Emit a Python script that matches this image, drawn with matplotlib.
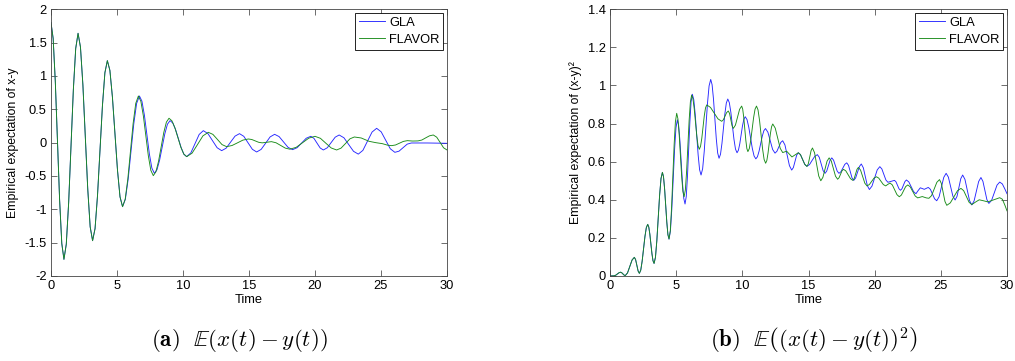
import matplotlib
matplotlib.use("Agg")
import matplotlib.pyplot as plt
from matplotlib.ticker import FuncFormatter, MultipleLocator

plt.rcParams['font.family'] = ['Liberation Sans', 'DejaVu Sans']
plt.rcParams['mathtext.fontset'] = 'cm'

# ---------------- data (time, value) ----------------
shared_mean = [(0, 1.80), (0.163, 1.562), (0.327, 0.912), (0.49, 0.025), (0.653, -0.862), (0.817, -1.512),
               (0.98, -1.75), (1.158, -1.523), (1.337, -0.903), (1.515, -0.055), (1.693, 0.793), (1.872, 1.413),
               (2.05, 1.64), (2.233, 1.432), (2.417, 0.863), (2.60, 0.085), (2.783, -0.693), (2.967, -1.262),
               (3.15, -1.47), (3.337, -1.289), (3.523, -0.795), (3.71, -0.12), (3.897, 0.555), (4.083, 1.049),
               (4.27, 1.23), (4.462, 1.083), (4.653, 0.683), (4.845, 0.135), (5.037, -0.413), (5.228, -0.813),
               (5.42, -0.96)]

gla_mean = [(5.633, -0.849), (5.847, -0.545), (6.06, -0.13), (6.273, 0.285), (6.487, 0.589), (6.70, 0.70),
            (6.888, 0.622), (7.077, 0.41), (7.265, 0.12), (7.453, -0.17), (7.642, -0.382), (7.83, -0.46),
            (8.028, -0.407), (8.227, -0.263), (8.425, -0.065), (8.623, 0.133), (8.822, 0.277), (9.02, 0.33),
            (9.23, 0.294), (9.44, 0.195), (9.65, 0.06), (9.86, -0.075), (10.07, -0.174), (10.28, -0.21),
            (10.595, -0.153), (10.91, -0.015), (11.225, 0.123), (11.54, 0.18), (11.888, 0.136), (12.235, 0.03),
            (12.583, -0.076), (12.93, -0.12), (13.268, -0.083), (13.605, 0.008), (13.943, 0.098), (14.28, 0.135),
            (14.605, 0.095), (14.93, -0.003), (15.255, -0.10), (15.58, -0.14), (15.92, -0.101), (16.26, -0.008),
            (16.60, 0.086), (16.94, 0.125), (17.28, 0.091), (17.62, 0.01), (17.96, -0.071), (18.3, -0.105),
            (18.645, -0.076), (18.99, -0.005), (19.335, 0.066), (19.68, 0.095), (19.918, 0.065), (20.155, -0.008),
            (20.393, -0.080), (20.63, -0.11), (20.93, -0.077), (21.23, 0.003), (21.53, 0.082), (21.83, 0.115),
            (22.193, 0.073), (22.555, -0.029), (22.918, -0.13), (23.28, -0.172), (23.628, -0.116), (23.975, 0.022),
            (24.323, 0.159), (24.67, 0.215), (25.015, 0.162), (25.36, 0.035), (25.705, -0.092), (26.05, -0.145),
            (26.363, -0.128), (26.675, -0.075), (26.988, -0.022), (27.3, -0.005), (28.5, -0.005), (29.5, -0.008),
            (30.0, -0.01)]

flavor_mean = [(5.62, -0.849), (5.82, -0.545), (6.02, -0.13), (6.22, 0.285), (6.42, 0.589), (6.62, 0.70),
               (6.808, 0.62), (6.997, 0.401), (7.185, 0.103), (7.373, -0.196), (7.562, -0.415), (7.75, -0.495),
               (7.948, -0.437), (8.147, -0.28), (8.345, -0.065), (8.543, 0.151), (8.742, 0.308), (8.94, 0.366),
               (9.163, 0.327), (9.387, 0.222), (9.61, 0.078), (9.833, -0.066), (10.057, -0.171), (10.28, -0.21),
               (10.69, -0.157), (11.10, -0.028), (11.51, 0.102), (11.92, 0.155), (12.265, 0.124), (12.61, 0.048),
               (12.955, -0.029), (13.3, -0.06), (13.713, -0.043), (14.125, -0.003), (14.538, 0.038), (14.95, 0.055),
               (15.213, 0.047), (15.475, 0.026), (15.738, 0.005), (16.0, -0.003), (16.35, 0.006), (16.7, 0.015),
               (17.05, -0.002), (17.40, -0.042), (17.75, -0.082), (18.1, -0.098), (18.575, -0.070), (19.05, -0.002),
               (19.525, 0.067), (20.0, 0.095), (20.41, 0.065), (20.82, -0.008), (21.23, -0.080), (21.64, -0.11),
               (21.975, -0.082), (22.31, -0.013), (22.645, 0.057), (22.98, 0.085), (23.5, 0.07), (24.1, 0.02),
               (24.6, 0.0), (25.1, -0.015), (25.5, -0.038), (25.8, -0.045), (26.1, -0.035), (26.4, -0.008),
               (26.7, 0.019), (27.0, 0.03), (27.4, 0.024), (27.8, 0.026), (28.09, 0.039), (28.38, 0.071),
               (28.67, 0.102), (28.96, 0.115), (29.22, 0.082), (29.48, 0.003), (29.74, -0.077), (30.0, -0.11)]

shared_sq = [(0, 0.0), (0.3, 0.001), (0.43, 0.004), (0.55, 0.010), (0.68, 0.017), (0.8, 0.02), (0.888, 0.017),
             (0.975, 0.011), (1.063, 0.005), (1.15, 0.002), (1.323, 0.016), (1.495, 0.05), (1.668, 0.084),
             (1.84, 0.098), (1.935, 0.086), (2.03, 0.056), (2.125, 0.026), (2.22, 0.014), (2.325, 0.031),
             (2.43, 0.078), (2.535, 0.143), (2.64, 0.207), (2.745, 0.254), (2.85, 0.271), (2.93, 0.257),
             (3.01, 0.220), (3.09, 0.169), (3.17, 0.117), (3.25, 0.080), (3.33, 0.066), (3.435, 0.098),
             (3.54, 0.186), (3.645, 0.305), (3.75, 0.425), (3.855, 0.512), (3.96, 0.544), (4.043, 0.521),
             (4.127, 0.457), (4.21, 0.369), (4.293, 0.282), (4.377, 0.217), (4.46, 0.194)]

gla_sq = [(4.565, 0.236), (4.67, 0.351), (4.775, 0.507), (4.88, 0.664), (4.985, 0.778), (5.09, 0.82),
          (5.187, 0.790), (5.283, 0.710), (5.38, 0.599), (5.477, 0.489), (5.573, 0.408), (5.67, 0.378),
          (5.762, 0.417), (5.853, 0.522), (5.945, 0.666), (6.037, 0.81), (6.128, 0.915), (6.22, 0.954),
          (6.33, 0.926), (6.44, 0.848), (6.55, 0.742), (6.66, 0.636), (6.77, 0.558), (6.88, 0.53),
          (7.002, 0.564), (7.123, 0.656), (7.245, 0.781), (7.367, 0.907), (7.488, 0.998), (7.61, 1.032),
          (7.715, 1.004), (7.82, 0.929), (7.925, 0.825), (8.03, 0.722), (8.135, 0.646), (8.24, 0.618),
          (8.35, 0.639), (8.46, 0.696), (8.57, 0.774), (8.68, 0.851), (8.79, 0.908), (8.9, 0.929),
          (9.017, 0.910), (9.133, 0.859), (9.25, 0.788), (9.367, 0.718), (9.483, 0.666), (9.6, 0.647),
          (9.703, 0.660), (9.807, 0.694), (9.91, 0.742), (10.013, 0.789), (10.117, 0.823), (10.22, 0.836),
          (10.353, 0.821), (10.487, 0.781), (10.62, 0.726), (10.753, 0.670), (10.887, 0.630), (11.02, 0.615),
          (11.142, 0.626), (11.263, 0.655), (11.385, 0.695), (11.507, 0.734), (11.628, 0.763), (11.75, 0.774),
          (11.93, 0.755), (12.11, 0.710), (12.29, 0.664), (12.47, 0.645), (12.615, 0.655), (12.76, 0.678),
          (12.905, 0.701), (13.05, 0.71), (13.22, 0.688), (13.39, 0.633), (13.56, 0.579), (13.73, 0.556),
          (13.855, 0.569), (13.98, 0.602), (14.105, 0.634), (14.23, 0.647), (14.393, 0.637), (14.555, 0.612),
          (14.718, 0.586), (14.88, 0.576), (15.078, 0.585), (15.275, 0.607), (15.473, 0.628), (15.67, 0.637),
          (15.815, 0.623), (15.96, 0.588), (16.105, 0.553), (16.25, 0.539), (16.378, 0.551), (16.505, 0.580),
          (16.633, 0.608), (16.76, 0.62), (16.895, 0.608), (17.03, 0.580), (17.165, 0.551), (17.3, 0.539),
          (17.448, 0.547), (17.595, 0.567), (17.743, 0.586), (17.89, 0.594), (18.023, 0.581), (18.155, 0.548),
          (18.288, 0.515), (18.42, 0.502), (18.563, 0.515), (18.705, 0.545), (18.848, 0.575), (18.99, 0.588),
          (19.143, 0.568), (19.295, 0.521), (19.448, 0.474), (19.6, 0.454), (19.798, 0.472), (19.995, 0.514),
          (20.193, 0.557), (20.39, 0.574), (20.543, 0.562), (20.695, 0.533), (20.848, 0.504), (21.0, 0.492),
          (21.25, 0.497), (21.5, 0.502), (21.613, 0.494), (21.725, 0.476), (21.838, 0.458), (21.95, 0.45),
          (22.063, 0.458), (22.175, 0.477), (22.288, 0.496), (22.4, 0.504), (22.58, 0.494), (22.76, 0.468),
          (22.94, 0.443), (23.12, 0.432), (23.28, 0.448), (23.45, 0.463), (23.6, 0.459), (23.75, 0.455),
          (23.9, 0.460), (24.05, 0.465), (24.21, 0.455), (24.37, 0.43), (24.53, 0.405), (24.69, 0.395),
          (24.868, 0.416), (25.045, 0.467), (25.223, 0.518), (25.4, 0.539), (25.57, 0.519), (25.74, 0.469),
          (25.91, 0.419), (26.08, 0.399), (26.223, 0.418), (26.365, 0.465), (26.508, 0.511), (26.65, 0.53),
          (26.823, 0.507), (26.995, 0.452), (27.168, 0.396), (27.34, 0.373), (27.513, 0.394), (27.685, 0.445),
          (27.858, 0.496), (28.03, 0.517), (28.18, 0.497), (28.33, 0.449), (28.48, 0.401), (28.63, 0.381),
          (28.835, 0.397), (29.04, 0.437), (29.245, 0.477), (29.45, 0.493), (29.65, 0.483), (29.85, 0.455),
          (30.0, 0.432)]

flavor_sq = [(4.557, 0.238), (4.653, 0.359), (4.75, 0.524), (4.847, 0.689), (4.943, 0.810), (5.04, 0.854),
             (5.133, 0.825), (5.227, 0.745), (5.32, 0.635), (5.413, 0.526), (5.507, 0.445), (5.6, 0.416),
             (5.695, 0.452), (5.79, 0.550), (5.885, 0.683), (5.98, 0.817), (6.075, 0.914), (6.17, 0.95),
             (6.267, 0.931), (6.363, 0.879), (6.46, 0.808), (6.557, 0.736), (6.653, 0.684), (6.75, 0.665),
             (6.843, 0.681), (6.937, 0.723), (7.03, 0.782), (7.123, 0.840), (7.217, 0.882), (7.31, 0.898),
             (7.593, 0.885), (7.875, 0.855), (8.158, 0.825), (8.44, 0.812), (8.565, 0.820), (8.69, 0.839),
             (8.815, 0.858), (8.94, 0.866), (9.035, 0.853), (9.13, 0.821), (9.225, 0.788), (9.32, 0.775),
             (9.478, 0.792), (9.635, 0.834), (9.793, 0.875), (9.95, 0.892), (10.028, 0.876), (10.107, 0.832),
             (10.185, 0.773), (10.263, 0.713), (10.342, 0.669), (10.42, 0.653), (10.528, 0.669), (10.637, 0.713),
             (10.745, 0.773), (10.853, 0.832), (10.962, 0.876), (11.07, 0.892), (11.185, 0.872), (11.3, 0.817),
             (11.415, 0.742), (11.53, 0.667), (11.645, 0.612), (11.76, 0.592), (11.85, 0.606), (11.94, 0.644),
             (12.03, 0.695), (12.12, 0.747), (12.21, 0.784), (12.3, 0.798), (12.488, 0.776), (12.675, 0.723),
             (12.863, 0.670), (13.05, 0.648), (13.35, 0.655), (13.75, 0.625), (13.99, 0.636), (14.23, 0.647),
             (14.393, 0.637), (14.555, 0.611), (14.718, 0.586), (14.88, 0.575), (14.985, 0.589), (15.09, 0.624),
             (15.195, 0.658), (15.3, 0.672), (15.458, 0.647), (15.615, 0.586), (15.773, 0.525), (15.93, 0.50),
             (16.088, 0.518), (16.245, 0.56), (16.403, 0.603), (16.56, 0.62), (16.72, 0.604), (16.88, 0.564),
             (17.04, 0.524), (17.2, 0.508), (17.31, 0.516), (17.42, 0.534), (17.53, 0.552), (17.64, 0.56),
             (17.818, 0.552), (17.995, 0.531), (18.173, 0.511), (18.35, 0.502), (18.455, 0.512), (18.56, 0.536),
             (18.665, 0.560), (18.77, 0.57), (18.933, 0.556), (19.095, 0.522), (19.258, 0.487), (19.42, 0.473),
             (19.598, 0.48), (19.775, 0.497), (19.953, 0.514), (20.13, 0.521), (20.305, 0.514), (20.48, 0.497),
             (20.655, 0.48), (20.83, 0.473), (20.995, 0.481), (21.16, 0.488), (21.335, 0.478), (21.51, 0.452),
             (21.685, 0.427), (21.86, 0.416), (22.02, 0.425), (22.18, 0.447), (22.34, 0.469), (22.5, 0.478),
             (22.688, 0.468), (22.875, 0.444), (23.063, 0.420), (23.25, 0.41), (23.6, 0.417), (23.9, 0.41),
             (24.1, 0.408), (24.3, 0.422), (24.5, 0.457), (24.7, 0.492), (24.9, 0.506), (25.038, 0.486),
             (25.175, 0.439), (25.313, 0.391), (25.45, 0.371), (25.718, 0.384), (25.985, 0.416), (26.253, 0.447),
             (26.52, 0.46), (26.725, 0.448), (26.93, 0.418), (27.135, 0.387), (27.34, 0.375), (27.62, 0.388),
             (27.9, 0.40), (28.22, 0.395), (28.55, 0.389), (29.0, 0.40), (29.45, 0.411), (29.65, 0.403),
             (29.85, 0.37), (30.0, 0.342)]

series_names = ["GLA", "FLAVOR"]
ylabels = ["Empirical expectation of x-y", "Empirical expectation of (x-y)\u00b2"]
xlabel = "Time"
captions = [r"$\mathbf{(a)}\ \ \mathbb{E}\left(x(t) - y(t)\right)$",
            r"$\mathbf{(b)}\ \ \mathbb{E}\left(\left(x(t) - y(t)\right)^2\right)$"]

BLUE = (0.15, 0.15, 1.0)
GREEN = (0.1, 0.55, 0.1)
FS = 9.3

fig = plt.figure(figsize=(10.15, 3.61), dpi=100)
W, H = 1015.0, 361.0
ax1 = fig.add_axes([51 / W, (H - 276) / H, 396 / W, 266.7 / H])
ax2 = fig.add_axes([610 / W, (H - 276) / H, 397 / W, 266.7 / H])


def unpack(*parts):
    pts = [p for part in parts for p in part]
    return [p[0] for p in pts], [p[1] for p in pts]


fmt = FuncFormatter(lambda v, pos: ("%g" % round(v, 6)))

panels = [
    (ax1, unpack(shared_mean, gla_mean), unpack(shared_mean, flavor_mean), (-2, 2), 0.5, ylabels[0]),
    (ax2, unpack(shared_sq, gla_sq), unpack(shared_sq, flavor_sq), (0, 1.4), 0.2, ylabels[1]),
]

for ax, g, f, ylim, ystep, ylab in panels:
    ax.plot(g[0], g[1], color=BLUE, lw=0.65, label=series_names[0])
    ax.plot(f[0], f[1], color=GREEN, lw=0.65, label=series_names[1])
    ax.set_xlim(0, 30)
    ax.set_ylim(*ylim)
    ax.xaxis.set_major_locator(MultipleLocator(5))
    ax.yaxis.set_major_locator(MultipleLocator(ystep))
    ax.xaxis.set_major_formatter(fmt)
    ax.yaxis.set_major_formatter(fmt)
    ax.tick_params(direction='in', top=True, right=True, length=4, width=0.5,
                   labelsize=FS, pad=3, color='#333333')
    for s in ax.spines.values():
        s.set_linewidth(0.6)
        s.set_color('#444444')
    ax.set_xlabel(xlabel, fontsize=FS, labelpad=1)
    ax.set_ylabel(ylab, fontsize=8.8, labelpad=4)
    leg = ax.legend(loc='upper right', bbox_to_anchor=(0.991, 0.987), borderaxespad=0,
                    fontsize=FS, fancybox=False, framealpha=1, edgecolor='black',
                    handlelength=2.05, handletextpad=0.3, labelspacing=0.38, borderpad=0.3)
    leg.get_frame().set_linewidth(0.6)

fig.text(239 / W, 1 - 341 / H, captions[0], ha='center', va='center', fontsize=16.5)
fig.text(814 / W, 1 - 341 / H, captions[1], ha='center', va='center', fontsize=16.5)

fig.savefig("out.png", dpi=100)
